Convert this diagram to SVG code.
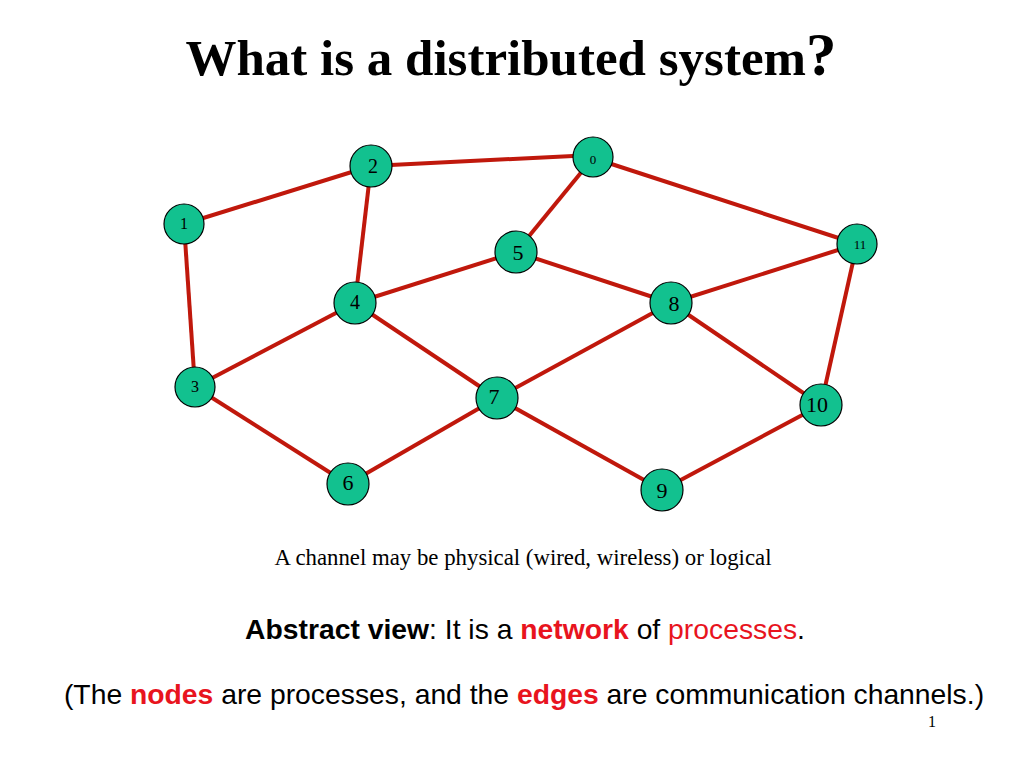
<svg xmlns="http://www.w3.org/2000/svg" width="1024" height="768" viewBox="0 0 1024 768">
<style>
.e{stroke:#C0180C;stroke-width:4;fill:none}
.n circle{fill:#12C18F;stroke:#000;stroke-width:1.2}
.n text{font-family:"Liberation Serif",serif;fill:#000;text-anchor:middle}
.s{font-family:"Liberation Sans",Arial,sans-serif;font-size:28.3px}
.r{fill:#E8141E;font-weight:bold}
</style>
<rect width="1024" height="768" fill="#fff"/>
<text x="511" y="75" text-anchor="middle" font-family="Liberation Serif,serif" font-weight="bold" font-size="51">What is a distributed system<tspan font-size="61">?</tspan></text>
<g id="connectors">
<line class="e" x1="184" y1="224" x2="371" y2="166"/>
<line class="e" x1="371" y1="166" x2="593" y2="155"/>
<line class="e" x1="593" y1="158" x2="516" y2="252"/>
<line class="e" x1="593" y1="158" x2="857" y2="244"/>
<line class="e" x1="371" y1="166" x2="355" y2="303"/>
<line class="e" x1="184" y1="224" x2="195" y2="387"/>
<line class="e" x1="355" y1="303" x2="516" y2="252"/>
<line class="e" x1="516" y1="252" x2="671" y2="303"/>
<line class="e" x1="857" y1="244" x2="671" y2="303"/>
<line class="e" x1="857" y1="244" x2="821" y2="405"/>
<line class="e" x1="355" y1="303" x2="195" y2="387"/>
<line class="e" x1="355" y1="303" x2="497" y2="398"/>
<line class="e" x1="671" y1="303" x2="497" y2="398"/>
<line class="e" x1="671" y1="303" x2="821" y2="405"/>
<line class="e" x1="195" y1="387" x2="348" y2="484"/>
<line class="e" x1="348" y1="484" x2="497" y2="398"/>
<line class="e" x1="497" y1="398" x2="662" y2="490"/>
<line class="e" x1="662" y1="490" x2="821" y2="405"/>
</g>
<g id="n0" class="n"><circle cx="593" cy="157" r="20"/><text x="593" y="164" font-size="13">0</text></g>
<g id="n1" class="n"><circle cx="184" cy="224" r="20"/><text x="184" y="229" font-size="16">1</text></g>
<g id="n2" class="n"><circle cx="371" cy="166" r="21"/><text x="373" y="173" font-size="20">2</text></g>
<g id="n3" class="n"><circle cx="195" cy="387" r="20"/><text x="195" y="392" font-size="16">3</text></g>
<g id="n4" class="n"><circle cx="355" cy="303" r="21"/><text x="355" y="309" font-size="20">4</text></g>
<g id="n5" class="n"><circle cx="516" cy="252" r="21"/><text x="518" y="260" font-size="22">5</text></g>
<g id="n6" class="n"><circle cx="348" cy="484" r="21"/><text x="348" y="490" font-size="22">6</text></g>
<g id="n7" class="n"><circle cx="497" cy="398" r="21"/><text x="494" y="404" font-size="22">7</text></g>
<g id="n8" class="n"><circle cx="671" cy="303" r="21"/><text x="674" y="311" font-size="22">8</text></g>
<g id="n9" class="n"><circle cx="662" cy="490" r="21"/><text x="662" y="498" font-size="22">9</text></g>
<g id="n10" class="n"><circle cx="821" cy="405" r="21"/><text x="817" y="412" font-size="22">10</text></g>
<g id="n11" class="n"><circle cx="857" cy="244" r="20"/><text x="860" y="249" font-size="13">11</text></g>
<text x="523" y="565" text-anchor="middle" font-family="Liberation Serif,serif" font-size="22.8">A channel may be physical (wired, wireless) or logical</text>
<text x="525" y="639" text-anchor="middle" class="s"><tspan font-weight="bold">Abstract view</tspan>: It is a <tspan class="r">network</tspan> of <tspan fill="#E8141E">processes</tspan>.</text>
<text x="524" y="704" text-anchor="middle" class="s">(The <tspan class="r">nodes</tspan> are processes, and the <tspan class="r">edges</tspan> are communication channels.)</text>
<text x="932" y="727" text-anchor="middle" font-family="Liberation Serif,serif" font-size="16">1</text>
</svg>
